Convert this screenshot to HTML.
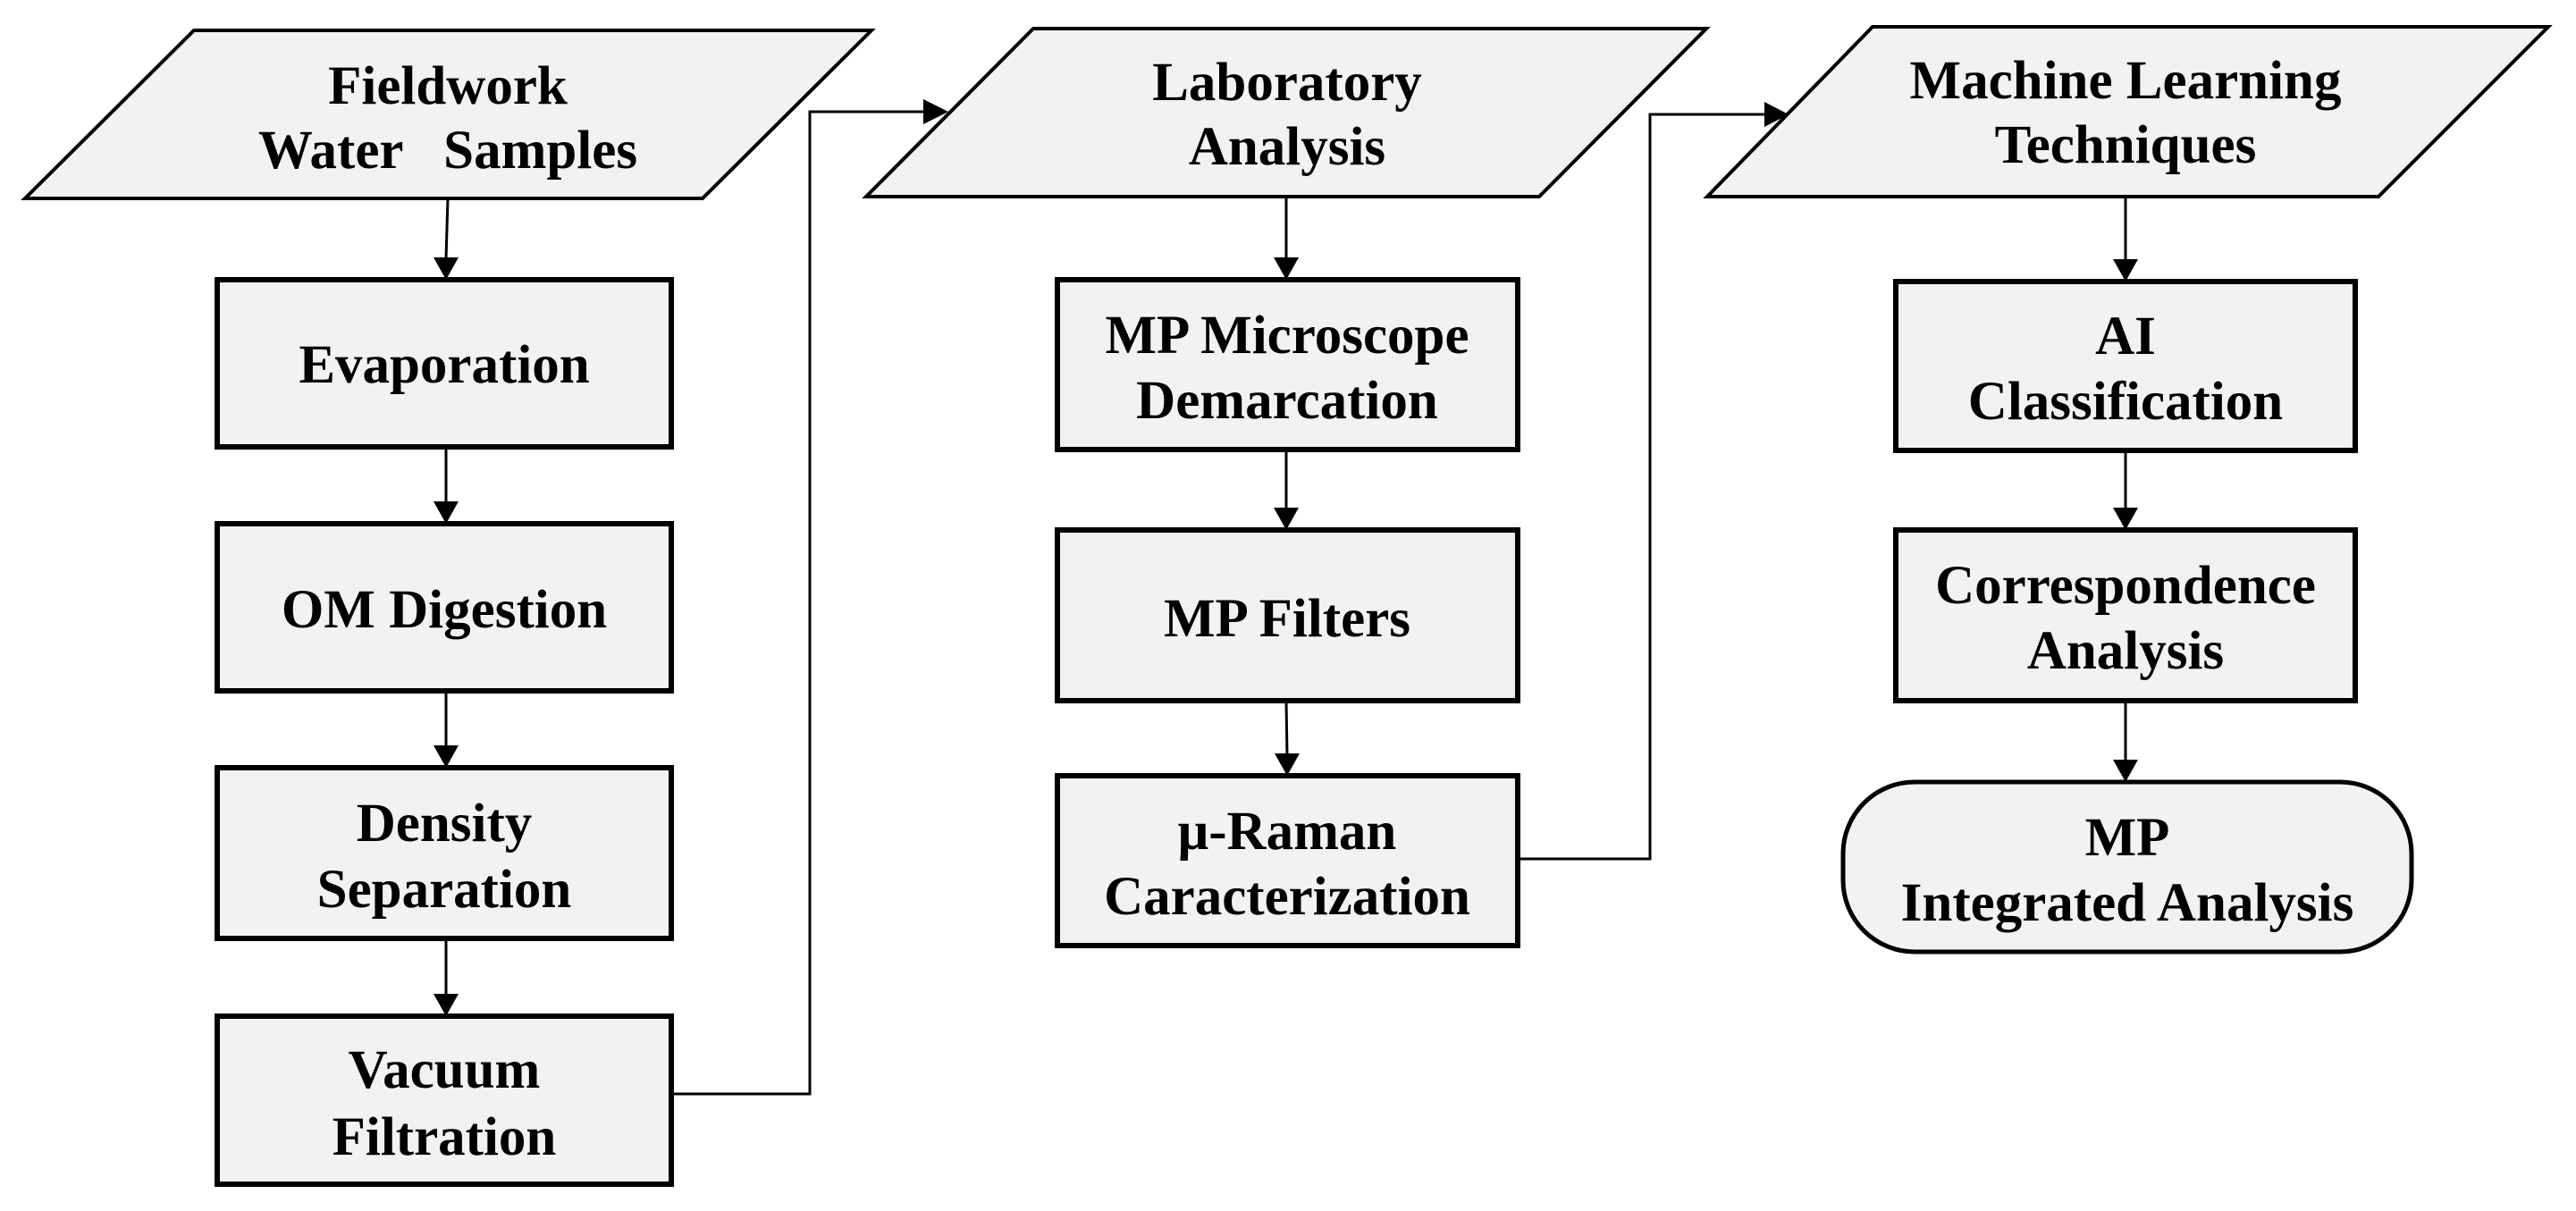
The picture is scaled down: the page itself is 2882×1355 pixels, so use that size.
<!DOCTYPE html>
<html><head><meta charset="utf-8"><style>
html,body{margin:0;padding:0;background:#fff;}
svg{display:block;}
text{font-family:"Liberation Serif",serif;font-weight:bold;font-size:61px;text-anchor:middle;fill:#000;}
</style></head><body>
<svg width="2882" height="1355" viewBox="0 0 2882 1355" xmlns="http://www.w3.org/2000/svg">
<g fill="#f2f2f2" stroke="#000">
<polygon points="217,34 975,34 786,222 28,222" stroke-width="4"/>
<polygon points="1156,32 1909,32 1722,220 969,220" stroke-width="4"/>
<polygon points="2095,30 2851,30 2661,220 1910,220" stroke-width="4"/>
<rect x="243" y="313" width="508" height="187" stroke-width="6"/>
<rect x="243" y="586" width="508" height="187" stroke-width="6"/>
<rect x="243" y="859" width="508" height="191" stroke-width="6"/>
<rect x="243" y="1137" width="508" height="188" stroke-width="6"/>
<rect x="1183" y="313" width="515" height="190" stroke-width="6"/>
<rect x="1183" y="593" width="515" height="191" stroke-width="6"/>
<rect x="1183" y="868" width="515" height="190" stroke-width="6"/>
<rect x="2121" y="315" width="514" height="189" stroke-width="6"/>
<rect x="2121" y="593" width="514" height="191" stroke-width="6"/>
<rect x="2062" y="875" width="636" height="190" rx="80" ry="80" stroke-width="5"/>
</g>
<g stroke="#000" stroke-width="3" fill="none">
<line x1="501" y1="222" x2="499" y2="290"/>
<line x1="499" y1="500" x2="499" y2="563"/>
<line x1="499" y1="773" x2="499" y2="836"/>
<line x1="499" y1="1050" x2="499" y2="1114"/>
<polyline points="751,1224 906,1224 906,125 1035,125"/>
<line x1="1439" y1="220" x2="1439" y2="290"/>
<line x1="1439" y1="503" x2="1439" y2="570"/>
<line x1="1439" y1="784" x2="1440" y2="845"/>
<polyline points="1698,961 1846,961 1846,128 1976,128"/>
<line x1="2378" y1="220" x2="2378" y2="292"/>
<line x1="2378" y1="504" x2="2378" y2="570"/>
<line x1="2378" y1="784" x2="2378" y2="852"/>
</g>
<g fill="#000">
<polygon points="485,288 513,288 499,313"/>
<polygon points="485,561 513,561 499,586"/>
<polygon points="485,834 513,834 499,859"/>
<polygon points="485,1112 513,1112 499,1137"/>
<polygon points="1033,111 1033,139 1061,125"/>
<polygon points="1425,288 1453,288 1439,313"/>
<polygon points="1425,568 1453,568 1439,593"/>
<polygon points="1426,843 1454,843 1440,868"/>
<polygon points="1974,114 1974,142 2001,128"/>
<polygon points="2364,290 2392,290 2378,315"/>
<polygon points="2364,568 2392,568 2378,593"/>
<polygon points="2364,850 2392,850 2378,875"/>
</g>
<g>
<text x="501" y="116">Fieldwork</text>
<text x="501" y="188" xml:space="preserve">Water   Samples</text>
<text x="497" y="428">Evaporation</text>
<text x="497" y="702">OM Digestion</text>
<text x="497" y="941">Density</text>
<text x="497" y="1015">Separation</text>
<text x="497" y="1217">Vacuum</text>
<text x="497" y="1292">Filtration</text>
<text x="1440" y="112">Laboratory</text>
<text x="1440" y="184">Analysis</text>
<text x="1440" y="395">MP Microscope</text>
<text x="1440" y="468">Demarcation</text>
<text x="1440" y="712">MP Filters</text>
<text x="1440" y="950">μ-Raman</text>
<text x="1440" y="1023">Caracterization</text>
<text x="2378" y="110">Machine Learning</text>
<text x="2378" y="182">Techniques</text>
<text x="2378" y="396">AI</text>
<text x="2378" y="469">Classification</text>
<text x="2378" y="675">Correspondence</text>
<text x="2378" y="748">Analysis</text>
<text x="2380" y="957">MP</text>
<text x="2380" y="1030">Integrated Analysis</text>
</g>
</svg>
</body></html>
